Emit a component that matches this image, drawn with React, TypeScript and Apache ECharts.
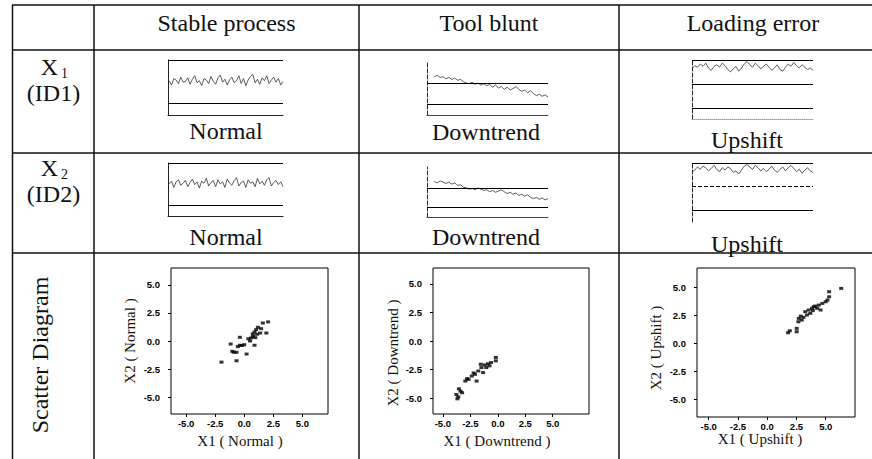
import React, { useEffect, useRef } from 'react';
import * as echarts from 'echarts';

// ---- Text content ----
const columnHeaders = ['Stable process', 'Tool blunt', 'Loading error'];
const patternLabels = ['Normal', 'Downtrend', 'Upshift'];
const scatterTicks = [-5, -2.5, 0, 2.5, 5];
const scatterXNames = ['X1 ( Normal )', 'X1 ( Downtrend )', 'X1 ( Upshift )'];
const scatterYNames = ['X2 ( Normal )', 'X2 ( Downtrend )', 'X2 ( Upshift )'];

// ---- Control-chart series (CL = 0, UCL = 3, LCL = -3) ----
const normalX1 = [0.1, -0.5, 0.4, 0.2, -0.3, 0.6, -0.1, 0.0, 0.5, -0.4, 0.3, 0.8, -0.2, 0.1, -0.6, 0.4, 0.2, -0.3, 0.7, 0.0, -0.4, 0.5, 0.9, -0.1, 0.3, -0.5, 0.2, 0.6, -0.2, 0.1, 0.8, -0.3, 0.4, -0.6, 0.2, 0.7, 1.0, -0.2, 0.3, -0.4, 0.5, 0.1, 0.8, -0.3, 0.2, 0.6, -0.1, 0.4, -0.5, 0.0];
const normalX2 = [0.0, 0.4, -0.5, 0.3, 0.6, -0.2, 0.1, 0.5, -0.4, 0.2, 0.7, -0.1, 0.3, -0.6, 0.4, 0.1, 0.8, -0.3, 0.2, 0.5, -0.4, 0.6, 0.0, 0.3, -0.5, 0.7, 0.1, -0.2, 0.5, 0.9, -0.3, 0.2, 0.4, -0.5, 0.6, 0.1, 0.3, -0.4, 0.8, 0.0, 0.4, -0.2, 0.6, 0.9, -0.3, 0.2, 0.5, -0.1, 0.3, -0.4];
const downtrendX1 = [0.9, 1.1, 0.8, 0.9, 0.6, 0.8, 0.5, 0.7, 0.4, 0.5, 0.2, 0.0, -0.1, 0.1, -0.2, 0.0, -0.3, -0.1, -0.4, -0.2, -0.6, -0.3, -0.7, -0.5, -0.9, -0.6, -1.0, -0.8, -0.5, -0.9, -1.2, -1.0, -1.4, -1.1, -1.5, -1.8, -1.6, -1.9, -1.7, -2.0];
const downtrendX2 = [1.0, 0.8, 1.1, 0.9, 0.7, 0.9, 0.6, 0.8, 0.4, 0.5, 0.1, 0.0, -0.2, -0.1, -0.3, 0.0, -0.2, -0.4, -0.3, -0.6, -0.4, -0.7, -0.5, -0.3, -0.6, -0.9, -0.7, -1.0, -0.8, -1.2, -1.0, -1.3, -1.1, -1.5, -1.7, -1.5, -1.8, -1.6, -1.9, -1.7];
const upshiftX1 = [1.9, 2.3, 2.1, 2.5, 2.2, 2.6, 2.0, 1.7, 2.2, 2.4, 2.1, 2.6, 2.3, 1.8, 1.5, 1.9, 2.2, 1.6, 2.0, 2.5, 2.8, 2.4, 2.1, 2.6, 2.3, 1.9, 2.2, 2.5, 2.1, 1.7, 2.0, 2.4, 1.8, 1.6, 2.1, 2.5, 2.2, 2.7, 2.3, 2.0, 2.4, 2.1, 1.8, 2.0, 1.7];
const upshiftX2 = [1.8, 2.1, 2.5, 2.2, 2.6, 2.4, 2.0, 2.3, 2.7, 2.2, 1.9, 2.4, 2.1, 2.5, 2.3, 1.8, 2.0, 1.6, 2.1, 2.6, 2.8, 2.5, 2.2, 2.7, 2.4, 2.0, 2.3, 1.9, 2.2, 2.6, 2.1, 1.8, 2.2, 2.5, 2.0, 2.4, 2.7, 2.3, 1.9, 2.2, 1.7, 2.1, 2.4, 2.0, 1.8];

// ---- Scatter data ----
const normalScatterX1 = [-1.96, -1.17, -1.03, -0.67, -0.67, -0.38, -0.38, 0.0, 0.2, 0.88, 0.59, 0.73, 0.88, 1.02, 1.17, 1.37, 1.9, 1.6, 2.05, -0.9, -0.2, 0.5, 0.75, 1.1, 0.35, -0.55, 1.45, 0.95];
const normalScatterX2 = [-1.88, -0.27, -0.92, -1.01, -1.76, -0.38, 0.33, -0.33, -1.16, -0.38, 0.27, 0.63, 0.8, 1.01, 1.22, 0.71, 0.71, 1.6, 1.7, -1.0, -0.4, 0.0, 0.4, 0.6, 0.2, -0.5, 1.1, 0.3];
const downtrendScatterX1 = [-3.68, -3.77, -3.39, -3.54, -3.25, -2.96, -2.66, -2.37, -2.08, -1.93, -1.78, -1.49, -1.34, -1.55, -1.05, -0.76, -0.61, -0.18, -0.18, -2.8, -2.2, -1.2, -3.6, -0.9];
const downtrendScatterX2 = [-5.07, -4.69, -4.4, -4.19, -4.54, -3.51, -3.36, -3.07, -2.92, -3.51, -2.63, -2.33, -2.77, -2.04, -2.33, -2.18, -1.89, -1.44, -1.74, -3.3, -2.8, -2.1, -4.9, -2.0];
const upshiftScatterX1 = [1.93, 1.78, 2.52, 2.52, 2.66, 2.95, 2.87, 3.1, 3.25, 3.54, 3.68, 3.83, 3.98, 4.27, 4.41, 4.56, 4.71, 5.0, 5.15, 5.29, 5.29, 6.32, 3.39, 3.9, 2.7, 4.1];
const upshiftScatterX2 = [1.1, 0.92, 1.31, 1.01, 1.9, 2.05, 2.41, 2.29, 2.8, 2.95, 2.65, 3.1, 3.24, 3.1, 3.39, 2.95, 3.54, 3.69, 3.84, 4.13, 4.58, 4.88, 2.5, 2.9, 2.2, 3.3];

const SERIF = 'Liberation Serif';
const SANS = 'Liberation Sans';

type Mini = {
  data: number[]; left: number; top: number; width: number; height: number;
  yMin: number; yMax: number; xMin: number;
  lines: { v: number; type: string; color: string }[];
  leftType: string; bottom: { show: boolean; type: string; color: string };
};

const miniCharts: Mini[] = [
  { data: normalX1, left: 168, top: 60, width: 115, height: 55, yMin: -4.7, yMax: 3, xMin: -0.5,
    lines: [{ v: 3, type: 'solid', color: '#000' }, { v: -3, type: 'solid', color: '#000' }],
    leftType: 'solid', bottom: { show: true, type: 'solid', color: '#222' } },
  { data: normalX2, left: 168, top: 163, width: 115, height: 53, yMin: -4.6, yMax: 3, xMin: -0.5,
    lines: [{ v: 3, type: 'solid', color: '#000' }, { v: -3, type: 'solid', color: '#000' }],
    leftType: 'solid', bottom: { show: true, type: 'solid', color: '#222' } },
  { data: downtrendX1, left: 427, top: 62, width: 121, height: 53, yMin: -4.57, yMax: 3, xMin: -2.5,
    lines: [{ v: 0, type: 'solid', color: '#000' }, { v: -3, type: 'solid', color: '#000' }],
    leftType: 'dashed', bottom: { show: true, type: 'solid', color: '#444' } },
  { data: downtrendX2, left: 427, top: 167, width: 121, height: 50, yMin: -4.6, yMax: 3.3, xMin: -2.5,
    lines: [{ v: 0, type: 'solid', color: '#000' }, { v: -3, type: 'solid', color: '#000' }],
    leftType: 'dashed', bottom: { show: true, type: 'solid', color: '#444' } },
  { data: upshiftX1, left: 692, top: 60, width: 121, height: 59, yMin: -4.4, yMax: 3, xMin: 0,
    lines: [{ v: 3, type: 'solid', color: '#000' }, { v: 0, type: 'solid', color: '#000' }, { v: -3, type: 'solid', color: '#000' }],
    leftType: 'dashed', bottom: { show: true, type: 'dotted', color: '#999' } },
  { data: upshiftX2, left: 692, top: 163, width: 121, height: 59, yMin: -4.5, yMax: 3, xMin: 0,
    lines: [{ v: 3, type: 'solid', color: '#000' }, { v: 0, type: 'dashed', color: '#000' }, { v: -3, type: 'solid', color: '#000' }],
    leftType: 'dashed', bottom: { show: false, type: 'solid', color: '#999' } },
];

const scatterCharts = [
  { xs: normalScatterX1, ys: normalScatterX2, left: 171, top: 268, width: 157, height: 146, xMin: -6.3, xMax: 7.2, yMin: -6.5, yMax: 6.5 },
  { xs: downtrendScatterX1, ys: downtrendScatterX2, left: 433, top: 268, width: 156, height: 146, xMin: -5.9, xMax: 8.3, yMin: -6.4, yMax: 6.4 },
  { xs: upshiftScatterX1, ys: upshiftScatterX2, left: 697, top: 268, width: 158, height: 149, xMin: -6.0, xMax: 7.5, yMin: -6.6, yMax: 6.7 },
];

function buildOption() {
  const grid: any[] = [];
  const xAxis: any[] = [];
  const yAxis: any[] = [];
  const series: any[] = [];

  miniCharts.forEach((m, i) => {
    grid.push({ left: m.left, top: m.top, width: m.width, height: m.height, containLabel: false });
    xAxis.push({
      type: 'value', gridIndex: i, min: m.xMin, max: m.data.length - 1,
      axisLine: { show: m.bottom.show, onZero: false, lineStyle: { color: m.bottom.color, type: m.bottom.type, width: 1 } },
      axisTick: { show: false }, axisLabel: { show: false }, splitLine: { show: false },
    });
    yAxis.push({
      type: 'value', gridIndex: i, min: m.yMin, max: m.yMax,
      axisLine: { show: true, onZero: false, lineStyle: { color: '#222', type: m.leftType, width: 1 } },
      axisTick: { show: false }, axisLabel: { show: false }, splitLine: { show: false },
    });
    series.push({
      type: 'line', xAxisIndex: i, yAxisIndex: i, symbol: 'none', silent: true,
      data: m.data.map((v, k) => [k, v]),
      lineStyle: { color: '#333', width: 0.8 },
      clip: false,
      markLine: {
        silent: true, symbol: ['none', 'none'], label: { show: false },
        data: m.lines.map((l) => ({ yAxis: l.v, lineStyle: { color: l.color, type: l.type, width: 1 } })),
      },
    });
  });

  scatterCharts.forEach((s, j) => {
    const gi = miniCharts.length + j;
    grid.push({ left: s.left, top: s.top, width: s.width, height: s.height, show: true, borderColor: '#000', borderWidth: 1, backgroundColor: 'transparent' });
    const labelStyle = { fontFamily: SANS, fontSize: 9.5, fontWeight: 'bold', color: '#000', formatter: (v: number) => v.toFixed(1), customValues: scatterTicks };
    xAxis.push({
      type: 'value', gridIndex: gi, min: s.xMin, max: s.xMax,
      axisLine: { show: false, onZero: false },
      axisTick: { show: true, inside: false, length: 3, customValues: scatterTicks, lineStyle: { color: '#000' } },
      axisLabel: { ...labelStyle, margin: 4 },
      splitLine: { show: false },
    });
    yAxis.push({
      type: 'value', gridIndex: gi, min: s.yMin, max: s.yMax,
      axisLine: { show: false, onZero: false },
      axisTick: { show: true, inside: false, length: 3, customValues: scatterTicks, lineStyle: { color: '#000' } },
      axisLabel: { ...labelStyle, margin: 11 },
      splitLine: { show: false },
    });
    series.push({
      type: 'scatter', xAxisIndex: gi, yAxisIndex: gi, silent: true,
      symbol: 'rect', symbolSize: [4, 3],
      itemStyle: { color: '#000' },
      data: s.xs.map((x, k) => [x, s.ys[k]]),
    });
  });

  const lineStyle = { stroke: '#111', lineWidth: 1.5 };
  const graphic: any[] = [];
  [5, 50, 153, 253].forEach((y) => {
    graphic.push({ type: 'line', shape: { x1: 12, y1: y, x2: 872, y2: y }, style: lineStyle, silent: true });
  });
  [12.5, 94, 359, 619].forEach((x) => {
    graphic.push({ type: 'line', shape: { x1: x, y1: 5, x2: x, y2: 459 }, style: lineStyle, silent: true });
  });

  const txt = (text: string, x: number, y: number, size: number, extra: any = {}) => ({
    type: 'text', x, y, silent: true, ...extra,
    style: { text, fill: '#111', fontFamily: SERIF, fontSize: size, align: 'center', verticalAlign: 'middle' },
  });

  const headerX = [226.5, 489, 753];
  columnHeaders.forEach((h, i) => graphic.push(txt(h, headerX[i], 23, 24)));

  const labelX = [226, 486, 747];
  const labelY1 = [131, 132, 140];
  const labelY2 = [237, 237, 244];
  patternLabels.forEach((p, i) => {
    graphic.push(txt(p, labelX[i], labelY1[i], 24));
    graphic.push(txt(p, labelX[i], labelY2[i], 24));
  });

  // Row headers
  graphic.push(txt('X', 49.5, 67, 24));
  graphic.push(txt('1', 64.5, 73, 14));
  graphic.push(txt('(ID1)', 53.5, 93, 24));
  graphic.push(txt('X', 49.5, 168, 24));
  graphic.push(txt('2', 64.5, 174, 14));
  graphic.push(txt('(ID2)', 53.5, 194, 24));
  graphic.push(txt('Scatter Diagram', 40, 355, 24, { rotation: Math.PI / 2 }));

  // Scatter axis names
  const xNamePos = [[240, 441], [497, 441], [760, 439]];
  const yNamePos = [[130, 341], [393, 353], [656, 348]];
  scatterXNames.forEach((n, i) => graphic.push(txt(n, xNamePos[i][0], xNamePos[i][1], 15)));
  scatterYNames.forEach((n, i) => graphic.push(txt(n, yNamePos[i][0], yNamePos[i][1], 15, { rotation: Math.PI / 2 })));

  return {
    animation: false,
    backgroundColor: '#fff',
    grid, xAxis, yAxis, series, graphic,
  };
}

export default function App() {
  const ref = useRef<HTMLDivElement>(null);
  useEffect(() => {
    if (!ref.current) return;
    const chart = echarts.init(ref.current, undefined, { renderer: 'svg' });
    chart.setOption(buildOption() as any);
    return () => chart.dispose();
  }, []);
  return <div ref={ref} style={{ position: 'absolute', left: 0, top: 0, width: 872, height: 459 }} />;
}
